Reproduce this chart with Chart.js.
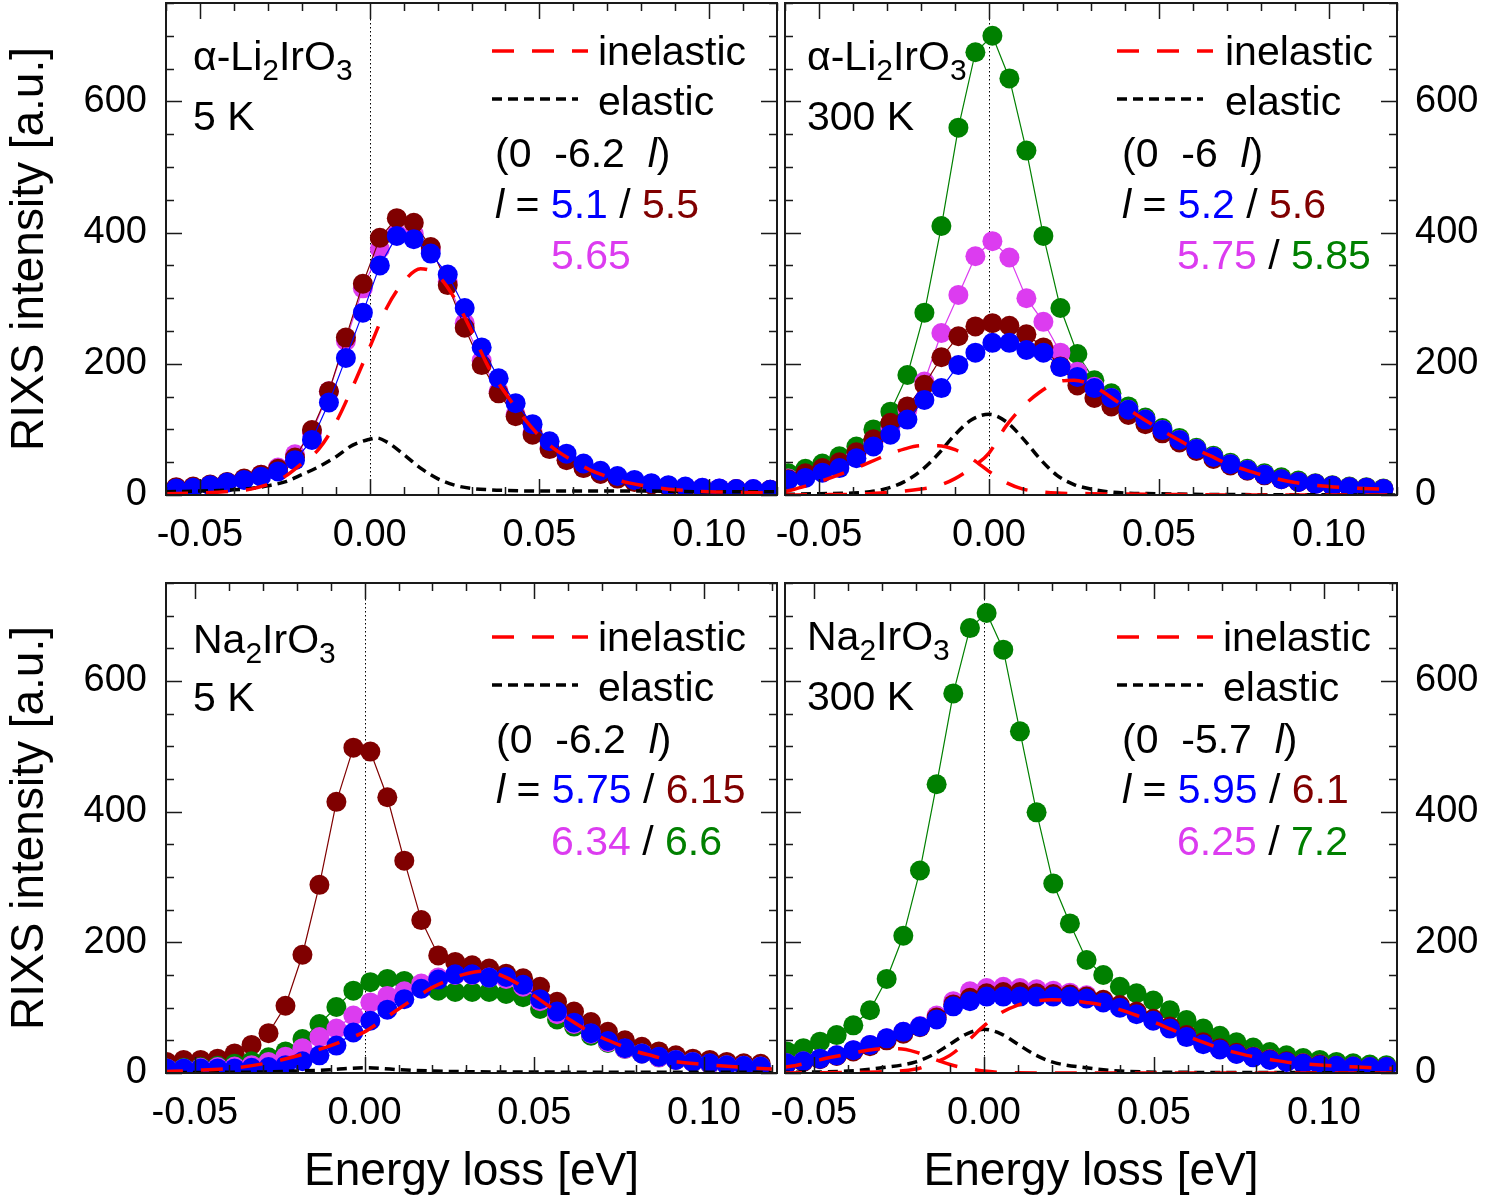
<!DOCTYPE html>
<html><head><meta charset="utf-8">
<script src="https://cdn.jsdelivr.net/npm/chart.js@4.4.1/dist/chart.umd.min.js"></script>
<style>
html,body{margin:0;padding:0;background:#fff;}
body{width:1490px;height:1203px;position:relative;overflow:hidden;}
canvas{position:absolute;}
</style></head><body>
<canvas id="cTL"></canvas><canvas id="cTR"></canvas><canvas id="cBL"></canvas><canvas id="cBR"></canvas>
<script>
// ---------- axis labels ----------
const xTickValues = [-0.05, 0, 0.05, 0.10];
const yTickValues = [0, 200, 400, 600];
const yTitle = 'RIXS intensity [a.u.]';
const xTitle = 'Energy loss [eV]';

// ---------- alpha-Li2IrO3, 5 K ----------
const energyTL = [-0.057,-0.052,-0.047,-0.042,-0.037,-0.032,-0.027,-0.022,-0.017,-0.012,-0.007,-0.002,0.003,0.008,0.013,0.018,0.023,0.028,0.033,0.038,0.043,0.048,0.053,0.058,0.063,0.068,0.073,0.078,0.083,0.088,0.093,0.098,0.103,0.108,0.113,0.118];
const blueTL    = [10,11,15,19,23,28,36,53,84,141,209,278,350,395,390,368,336,285,225,178,140,108,82,63,48,37,29,23,18,15,13,11,10,9,9,8];
const maroonTL  = [12,13,16,20,25,31,40,57,99,158,240,322,392,422,415,378,320,255,198,155,120,92,70,53,41,32,25,20,16,13,11,10,9,9,8,8];
const magentaTL = [11,12,15,19,24,31,42,62,95,158,235,315,375,398,398,375,325,262,205,158,123,95,72,55,42,33,26,21,17,14,12,11,10,9,9,8];
const inelXTL = [-0.06,-0.05,-0.04,-0.035,-0.03,-0.025,-0.02,-0.015,-0.01,-0.005,0,0.005,0.01,0.015,0.02,0.025,0.03,0.035,0.04,0.045,0.05,0.055,0.06,0.065,0.07,0.075,0.08,0.085,0.09,0.1,0.11,0.12];
const inelTL  = [2,3,6,9,16,28,48,70,110,165,225,285,325,345,335,300,250,195,155,120,90,68,52,38,28,20,15,11,8,5,4,3];
const elXTL = [-0.06,-0.05,-0.04,-0.035,-0.03,-0.025,-0.02,-0.015,-0.01,-0.005,0,0.002,0.005,0.01,0.015,0.02,0.025,0.03,0.035,0.04,0.05,0.06,0.08,0.1,0.12];
const elTL  = [5,6,8,10,14,20,31,43,58,76,85,87,81,62,41,25,15,10,8,7,6,6,6,5,5];

// ---------- alpha-Li2IrO3, 300 K ----------
const energyTR = [-0.059,-0.054,-0.049,-0.044,-0.039,-0.034,-0.029,-0.024,-0.019,-0.014,-0.009,-0.004,0.001,0.006,0.011,0.016,0.021,0.026,0.031,0.036,0.041,0.046,0.051,0.056,0.061,0.066,0.071,0.076,0.081,0.086,0.091,0.096,0.101,0.106,0.111,0.116];
const blueTR    = [23,26,34,41,56,74,92,115,145,163,198,217,232,232,221,217,195,180,163,148,130,115,99,84,70,58,47,38,31,24,20,17,14,12,11,9];
const maroonTR  = [24,33,41,50,65,85,110,135,168,210,242,257,262,258,245,225,196,167,148,135,122,108,94,80,67,55,45,37,30,24,20,17,14,12,11,9];
const magentaTR = [25,30,38,48,62,80,102,130,173,247,305,364,387,362,300,264,217,188,165,148,130,115,99,84,70,58,47,38,31,24,20,17,14,12,11,9];
const greenTR   = [33,40,48,59,74,100,127,183,278,410,560,675,700,635,525,395,285,215,175,155,135,118,102,87,72,60,49,40,33,27,22,18,15,13,12,10];
const inelAXTR = [-0.06,-0.055,-0.05,-0.045,-0.04,-0.035,-0.03,-0.025,-0.02,-0.015,-0.01,-0.005,0,0.005,0.01,0.015,0.02,0.03,0.05,0.08,0.12];
const inelATR  = [5,12,20,29,39,50,61,70,75,75,69,55,36,19,9,5,3,2,1,0,0];
const inelBXTR = [-0.06,-0.05,-0.04,-0.03,-0.02,-0.015,-0.01,-0.005,0,0.005,0.01,0.015,0.02,0.025,0.03,0.035,0.04,0.045,0.05,0.055,0.06,0.065,0.07,0.075,0.08,0.09,0.1,0.11,0.12];
const inelBTR  = [0,0.5,1,4,9,14,25,42,64,105,135,157,172,175,168,152,134,117,101,86,72,60,48,39,31,19,13,10,8];
const elXTR = [-0.06,-0.05,-0.04,-0.035,-0.03,-0.025,-0.02,-0.015,-0.01,-0.005,0,0.005,0.01,0.015,0.02,0.025,0.03,0.035,0.04,0.05,0.06,0.08,0.12];
const elTR  = [1,2,3,5,10,20,37,62,92,115,123,112,86,55,30,16,9,5,3,2,1,0.5,0];

// ---------- Na2IrO3, 5 K ----------
const energyBL = [-0.0583,-0.0533,-0.0483,-0.0433,-0.0383,-0.0333,-0.0283,-0.0233,-0.0183,-0.0133,-0.0083,-0.0033,0.0017,0.0067,0.0117,0.0167,0.0217,0.0267,0.0317,0.0367,0.0417,0.0467,0.0517,0.0567,0.0617,0.0667,0.0717,0.0767,0.0817,0.0867,0.0917,0.0967,0.1017,0.1067,0.1117,0.1167];
const maroonBL  = [17,20,20,22,30,43,61,103,181,288,415,498,492,422,325,234,180,170,165,160,152,145,132,109,94,78,63,50,40,33,27,22,20,17,15,14];
const greenBL   = [7,8,9,11,14,18,24,33,52,75,101,126,139,144,141,133,126,124,124,124,121,116,98,82,71,57,46,37,30,24,20,17,14,12,11,10];
const magentaBL = [7,7,8,9,10,12,17,25,38,55,68,88,108,118,125,137,146,150,150,146,144,132,110,90,75,60,47,37,30,24,20,17,14,12,11,10];
const blueBL    = [7,7,7,7,7,8,9,12,18,27,42,62,80,97,113,129,143,151,151,146,147,135,113,94,77,61,49,38,30,25,20,17,15,12,11,10];
const inelXBL = [-0.06,-0.05,-0.04,-0.03,-0.02,-0.01,-0.005,0,0.005,0.01,0.015,0.02,0.025,0.03,0.035,0.04,0.045,0.05,0.055,0.06,0.065,0.07,0.075,0.08,0.085,0.09,0.1,0.11,0.12];
const inelBL  = [2,4,7,14,26,42,52,63,80,98,115,131,143,152,156,150,137,118,100,83,67,54,43,33,26,19,13,9,6];
const elXBL = [-0.06,-0.04,-0.03,-0.02,-0.01,-0.005,0,0.005,0.01,0.02,0.03,0.05,0.08,0.12];
const elBL  = [0.5,1,1.5,3,5,7,8,7,5,3,2,1.5,1,1];

// ---------- Na2IrO3, 300 K ----------
const energyBR = [-0.0580,-0.0531,-0.0482,-0.0433,-0.0384,-0.0335,-0.0286,-0.0237,-0.0188,-0.0139,-0.0090,-0.0041,0.0008,0.0057,0.0106,0.0155,0.0204,0.0253,0.0302,0.0351,0.0400,0.0449,0.0498,0.0547,0.0596,0.0645,0.0694,0.0743,0.0792,0.0841,0.0890,0.0939,0.0988,0.1037,0.1086,0.1135,0.1184];
const greenBR   = [33,38,48,58,73,96,144,210,310,442,581,681,704,648,523,399,290,229,173,150,132,122,111,96,81,68,57,47,39,32,27,23,20,17,15,13,12];
const magentaBR = [15,18,22,27,35,43,53,63,72,88,110,125,130,132,130,128,126,123,119,111,102,92,81,69,57,46,37,30,25,21,17,15,13,11,10,9,9];
const maroonBR  = [14,17,21,26,33,41,50,60,70,85,105,115,122,124,124,122,121,120,117,112,104,94,83,71,58,47,38,31,25,21,18,15,13,11,10,9,9];
const blueBR    = [15,18,22,27,35,43,53,63,71,82,102,110,117,117,117,117,117,117,114,108,100,90,80,68,55,44,36,29,24,20,17,14,12,11,10,9,9];
const inelQXBR = [-0.06,-0.04,-0.03,-0.02,-0.015,-0.01,-0.005,0,0.005,0.01,0.015,0.02,0.025,0.03,0.035,0.04,0.045,0.05,0.055,0.06,0.065,0.07,0.075,0.08,0.085,0.09,0.1,0.11,0.12];
const inelQBR  = [0,1,2,6,15,27,48,72,92,104,110,112,111,108,104,97,88,78,67,56,46,37,30,24,20,16,12,9,7];
const inelPXBR = [-0.06,-0.055,-0.05,-0.045,-0.04,-0.035,-0.03,-0.025,-0.02,-0.015,-0.01,-0.005,0,0.005,0.01,0.02,0.05,0.12];
const inelPBR  = [8,12,18,24,29,34,37,37,32,22,13,7,3,1,0.5,0,0,0];
const elXBR = [-0.06,-0.04,-0.03,-0.02,-0.015,-0.01,-0.005,0,0.005,0.01,0.015,0.02,0.03,0.04,0.06,0.12];
const elBR  = [1,3,8,17,28,44,60,67,60,44,28,17,8,3,1,0.5];

// ---------- styling ----------
const FAM = '"Liberation Sans", Arial, Helvetica, sans-serif';
Chart.defaults.font.family = FAM;
Chart.defaults.color = '#000';
const C = {blue:'#0000ff', maroon:'#800000', magenta:'#dc3cf0', green:'#008000', red:'#ff0000', black:'#000000'};
const RED_DASH = [22, 18], BLK_DASH = [10, 6];

function pts(xs, ys){ return xs.map((x, i) => ({x: x, y: ys[i]})); }
function series(xs, ys, color, order){
  return {data: pts(xs, ys), borderColor: color, backgroundColor: color, pointBackgroundColor: color,
    pointBorderColor: color, borderWidth: 1.2, pointRadius: 10, pointHoverRadius: 10, pointBorderWidth: 0,
    tension: 0, fill: false, order: order};
}
function curve(xs, ys, color, dash, order){
  return {data: pts(xs, ys), borderColor: color, backgroundColor: color, borderWidth: 3.5, borderDash: dash,
    pointRadius: 0, pointHoverRadius: 0, cubicInterpolationMode: 'monotone', fill: false, order: order};
}

function drawRuns(ctx, x, y, runs, size){
  for (const r of runs){
    const fs = r.sub ? 30 : size;
    ctx.font = (r.it ? 'italic ' : '') + fs + 'px ' + FAM;
    ctx.fillStyle = r.c || '#000';
    ctx.textBaseline = 'alphabetic'; ctx.textAlign = 'left';
    ctx.fillText(r.t, x, r.sub ? y + 10 : y);
    x += ctx.measureText(r.t).width;
  }
}

function deco(o){
  return {
    id: 'deco_' + o.id,
    beforeDatasetsDraw(chart){
      const {ctx, chartArea: a} = chart; const x = chart.scales.x;
      const px = Math.round(x.getPixelForValue(0)) + 0.5;
      ctx.save(); ctx.strokeStyle = '#000'; ctx.lineWidth = 1; ctx.setLineDash([1.5, 2.5]);
      ctx.beginPath(); ctx.moveTo(px, a.top); ctx.lineTo(px, a.bottom); ctx.stroke(); ctx.restore();
    },
    afterDatasetsDraw(chart){
      const {ctx, chartArea: a} = chart; const x = chart.scales.x, y = chart.scales.y;
      ctx.save(); ctx.strokeStyle = '#1a1a1a'; ctx.lineWidth = 1.5; ctx.setLineDash([]);
      ctx.beginPath();
      for (let i = -6; i <= 12; i++){
        const v = i / 100; if (v < x.min - 1e-9 || v > x.max + 1e-9) continue;
        const p = Math.round(x.getPixelForValue(v)) + 0.5; const L = (i % 5 === 0) ? 16 : 8;
        ctx.moveTo(p, a.bottom); ctx.lineTo(p, a.bottom - L); ctx.moveTo(p, a.top); ctx.lineTo(p, a.top + L);
      }
      for (let v = 0; v <= 750; v += 50){
        const p = Math.round(y.getPixelForValue(v)) + 0.5; const L = (v % 200 === 0) ? 16 : 8;
        ctx.moveTo(a.left, p); ctx.lineTo(a.left + L, p); ctx.moveTo(a.right, p); ctx.lineTo(a.right - L, p);
      }
      ctx.stroke();
      ctx.lineWidth = 2; ctx.strokeRect(a.left, a.top, a.right - a.left, a.bottom - a.top);
      ctx.restore();
    },
    afterDraw(chart){
      const ctx = chart.ctx; ctx.save();
      for (const d of o.dashes){
        ctx.strokeStyle = d.c; ctx.lineWidth = 3.5; ctx.setLineDash(d.dash); ctx.lineCap = 'butt';
        ctx.beginPath(); ctx.moveTo(d.x1 - o.left, d.y - o.top); ctx.lineTo(d.x2 - o.left, d.y - o.top); ctx.stroke();
      }
      ctx.setLineDash([]);
      for (const t of o.texts) drawRuns(ctx, t.x - o.left, t.y - o.top, t.runs, 41);
      ctx.restore();
    }
  };
}

function makePanel(o){
  const cv = document.getElementById(o.id);
  cv.width = o.w; cv.height = o.h;
  cv.style.left = o.left + 'px'; cv.style.top = o.top + 'px';
  cv.style.width = o.w + 'px'; cv.style.height = o.h + 'px';
  const yAxis = {
    type: 'linear', position: o.side, min: 0, max: 750,
    afterBuildTicks: s => { s.ticks = yTickValues.map(v => ({value: v})); },
    ticks: {font: {size: 38}, color: '#000', padding: o.side === 'left' ? 19 : 18, autoSkip: false},
    grid: {display: false, drawTicks: false}, border: {display: false},
    title: {display: o.side === 'left', text: yTitle, font: {size: 46}, color: '#000', padding: {top: 3, bottom: 0}},
    afterFit: s => { s.width = o.yWidth; s.paddingTop = 0; s.paddingBottom = 0; }
  };
  const xAxis = {
    type: 'linear', position: 'bottom', min: o.xmin, max: o.xmax,
    afterBuildTicks: s => { s.ticks = xTickValues.map(v => ({value: v})); },
    ticks: {font: {size: 38}, color: '#000', padding: 18, maxRotation: 0, minRotation: 0, autoSkip: false,
      callback: v => Number(v).toFixed(2)},
    grid: {display: false, drawTicks: false}, border: {display: false},
    title: {display: !!o.xTitle, text: xTitle, font: {size: 46}, color: '#000', padding: {top: 0, bottom: 3}},
    afterFit: s => { s.height = o.xHeight; s.paddingLeft = 0; s.paddingRight = 0; }
  };
  const ch = new Chart(cv, {
    type: 'line',
    data: {datasets: o.datasets},
    options: {responsive: false, animation: false, events: [],
      layout: {padding: Object.assign({}, o.pad), autoPadding: false},
      scales: {x: xAxis, y: yAxis}, plugins: {legend: {display: false}, tooltip: {enabled: false}}},
    plugins: [deco(o)]
  });
  // nudge layout padding so the plot frame lands on the intended box
  for (let it = 0; it < 3; it++){
    const a = ch.chartArea;
    const dl = (o.area[0] - o.left) - a.left, dt = (o.area[1] - o.top) - a.top;
    const dr = a.right - (o.area[2] - o.left), db = a.bottom - (o.area[3] - o.top);
    if (Math.abs(dl) + Math.abs(dt) + Math.abs(dr) + Math.abs(db) < 0.5) break;
    const p = ch.options.layout.padding;
    ch.options.layout.padding = {left: p.left + dl, top: p.top + dt, right: p.right + dr, bottom: p.bottom + db};
    ch.update();
  }
}

function legendBlock(x0, y0){
  return [
    {x1: x0, x2: x0 + 96, y: y0, c: C.red, dash: RED_DASH},
    {x1: x0, x2: x0 + 86, y: y0 + 48, c: C.black, dash: BLK_DASH}
  ];
}

// ---- top-left ----
makePanel({id: 'cTL', left: 0, top: 0, w: 781, h: 583, pad: {left: 0, right: 4, top: 3, bottom: 0},
  area: [166, 3, 777, 495],
  side: 'left', yWidth: 166, xHeight: 88, xmin: -0.06, xmax: 0.12, xTitle: false,
  datasets: [
    curve(inelXTL, inelTL, C.red, RED_DASH, 0),
    curve(elXTL, elTL, C.black, BLK_DASH, 0),
    series(energyTL, blueTL, C.blue, 1),
    series(energyTL, maroonTL, C.maroon, 2),
    series(energyTL, magentaTL, C.magenta, 3)
  ],
  dashes: legendBlock(492, 51),
  texts: [
    {x: 193, y: 70, runs: [{t: '\u03B1-Li'}, {t: '2', sub: true}, {t: 'IrO'}, {t: '3', sub: true}]},
    {x: 193, y: 130, runs: [{t: '5 K'}]},
    {x: 598, y: 65, runs: [{t: 'inelastic'}]},
    {x: 598, y: 115, runs: [{t: 'elastic'}]},
    {x: 495, y: 167, runs: [{t: '(0  -6.2  '}, {t: 'l', it: true}, {t: ')'}]},
    {x: 495, y: 218, runs: [{t: 'l', it: true}, {t: ' = '}, {t: '5.1', c: C.blue}, {t: ' / '}, {t: '5.5', c: C.maroon}]},
    {x: 551, y: 269, runs: [{t: '5.65', c: C.magenta}]}
  ]});

// ---- top-right ----
makePanel({id: 'cTR', left: 755, top: 0, w: 735, h: 583, pad: {left: 30, right: 0, top: 3, bottom: 0},
  area: [785, 3, 1397, 495],
  side: 'right', yWidth: 93, xHeight: 88, xmin: -0.06, xmax: 0.12, xTitle: false,
  datasets: [
    curve(inelAXTR, inelATR, C.red, RED_DASH, 0),
    curve(inelBXTR, inelBTR, C.red, RED_DASH, 0),
    curve(elXTR, elTR, C.black, BLK_DASH, 0),
    series(energyTR, blueTR, C.blue, 1),
    series(energyTR, maroonTR, C.maroon, 2),
    series(energyTR, magentaTR, C.magenta, 3),
    series(energyTR, greenTR, C.green, 4)
  ],
  dashes: legendBlock(1117, 51),
  texts: [
    {x: 807, y: 70, runs: [{t: '\u03B1-Li'}, {t: '2', sub: true}, {t: 'IrO'}, {t: '3', sub: true}]},
    {x: 807, y: 130, runs: [{t: '300 K'}]},
    {x: 1225, y: 65, runs: [{t: 'inelastic'}]},
    {x: 1225, y: 115, runs: [{t: 'elastic'}]},
    {x: 1122, y: 167, runs: [{t: '(0  -6  '}, {t: 'l', it: true}, {t: ')'}]},
    {x: 1122, y: 218, runs: [{t: 'l', it: true}, {t: ' = '}, {t: '5.2', c: C.blue}, {t: ' / '}, {t: '5.6', c: C.maroon}]},
    {x: 1177, y: 269, runs: [{t: '5.75', c: C.magenta}, {t: ' / '}, {t: '5.85', c: C.green}]}
  ]});

// ---- bottom-left ----
makePanel({id: 'cBL', left: 0, top: 580, w: 781, h: 623, pad: {left: 0, right: 4, top: 3, bottom: 0},
  area: [166, 583, 777, 1073],
  side: 'left', yWidth: 166, xHeight: 130, xmin: -0.0585, xmax: 0.1215, xTitle: true,
  datasets: [
    curve(inelXBL, inelBL, C.red, RED_DASH, 0),
    curve(elXBL, elBL, C.black, BLK_DASH, 0),
    series(energyBL, blueBL, C.blue, 1),
    series(energyBL, magentaBL, C.magenta, 2),
    series(energyBL, greenBL, C.green, 3),
    series(energyBL, maroonBL, C.maroon, 4)
  ],
  dashes: legendBlock(492, 637),
  texts: [
    {x: 193, y: 653, runs: [{t: 'Na'}, {t: '2', sub: true}, {t: 'IrO'}, {t: '3', sub: true}]},
    {x: 193, y: 711, runs: [{t: '5 K'}]},
    {x: 598, y: 651, runs: [{t: 'inelastic'}]},
    {x: 598, y: 701, runs: [{t: 'elastic'}]},
    {x: 496, y: 753, runs: [{t: '(0  -6.2  '}, {t: 'l', it: true}, {t: ')'}]},
    {x: 496, y: 803, runs: [{t: 'l', it: true}, {t: ' = '}, {t: '5.75', c: C.blue}, {t: ' / '}, {t: '6.15', c: C.maroon}]},
    {x: 551, y: 855, runs: [{t: '6.34', c: C.magenta}, {t: ' / '}, {t: '6.6', c: C.green}]}
  ]});

// ---- bottom-right ----
makePanel({id: 'cBR', left: 755, top: 580, w: 735, h: 623, pad: {left: 30, right: 0, top: 3, bottom: 0},
  area: [785, 583, 1397, 1073],
  side: 'right', yWidth: 93, xHeight: 130, xmin: -0.0585, xmax: 0.1215, xTitle: true,
  datasets: [
    curve(inelQXBR, inelQBR, C.red, RED_DASH, 0),
    curve(inelPXBR, inelPBR, C.red, RED_DASH, 0),
    curve(elXBR, elBR, C.black, BLK_DASH, 0),
    series(energyBR, blueBR, C.blue, 1),
    series(energyBR, maroonBR, C.maroon, 2),
    series(energyBR, magentaBR, C.magenta, 3),
    series(energyBR, greenBR, C.green, 4)
  ],
  dashes: legendBlock(1117, 637),
  texts: [
    {x: 807, y: 650, runs: [{t: 'Na'}, {t: '2', sub: true}, {t: 'IrO'}, {t: '3', sub: true}]},
    {x: 807, y: 710, runs: [{t: '300 K'}]},
    {x: 1223, y: 651, runs: [{t: 'inelastic'}]},
    {x: 1223, y: 701, runs: [{t: 'elastic'}]},
    {x: 1122, y: 753, runs: [{t: '(0  -5.7  '}, {t: 'l', it: true}, {t: ')'}]},
    {x: 1122, y: 803, runs: [{t: 'l', it: true}, {t: ' = '}, {t: '5.95', c: C.blue}, {t: ' / '}, {t: '6.1', c: C.maroon}]},
    {x: 1177, y: 855, runs: [{t: '6.25', c: C.magenta}, {t: ' / '}, {t: '7.2', c: C.green}]}
  ]});
</script>
</body></html>
